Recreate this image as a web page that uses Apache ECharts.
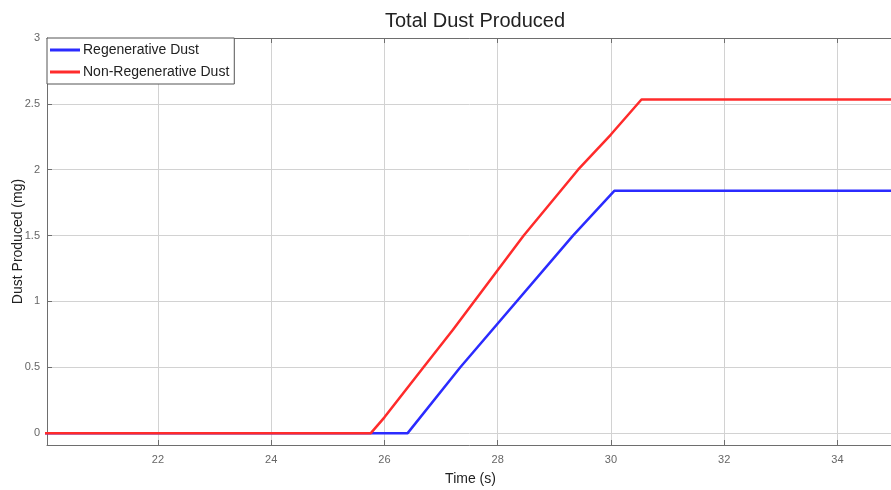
<!DOCTYPE html>
<html>
<head>
<meta charset="utf-8">
<script src="https://cdn.jsdelivr.net/npm/echarts@6/dist/echarts.min.js"></script>
<style>
  html, body { margin: 0; padding: 0; background: #fff; }
  #chart { width: 891px; height: 490px; }
</style>
</head>
<body>
<div id="chart"></div>
<script>
// ---- data ----
const xTicks = [22, 24, 26, 28, 30, 32, 34];
const yTicks = [0, 0.5, 1, 1.5, 2, 2.5, 3];
const regenTime  = [20, 26.41, 27.34, 29.33, 30.06, 35];
const regenDust  = [0, 0, 0.5, 1.5, 1.84, 1.84];
const nonRegenTime = [20, 25.76, 26.0, 26.69, 27.21, 28.46, 29.42, 30.0, 30.54, 35];
const nonRegenDust = [0, 0, 0.12, 0.5, 0.785, 1.5, 2.0, 2.267, 2.533, 2.533];

const pair = (xs, ys) => xs.map((x, i) => [x, ys[i]]);

const chart = echarts.init(document.getElementById('chart'), null, { renderer: 'canvas' });
const font = 'Liberation Sans, Arial, sans-serif';
const axisColor = '#6e6e6e';
const gridColor = '#d2d2d2';

chart.setOption({
  animation: false,
  backgroundColor: '#fff',
  title: {
    text: 'Total Dust Produced',
    left: 470, top: 6, textAlign: 'center',
    textStyle: { fontFamily: font, fontSize: 20, fontWeight: 'normal', color: '#222' }
  },
  legend: {
    left: 47, top: 38,
    orient: 'vertical',
    itemWidth: 30, itemHeight: 3,
    itemGap: 8,
    padding: [5, 5, 5, 3],
    backgroundColor: '#fff',
    borderColor: '#555', borderWidth: 1,
    textStyle: { fontFamily: font, fontSize: 14, color: '#222', padding: [0, 0, 0, -2] },
    data: [
      { name: 'Regenerative Dust', icon: 'rect' },
      { name: 'Non-Regenerative Dust', icon: 'rect' }
    ]
  },
  grid: { left: 47, top: 38, width: 847, height: 407, show: false, outerBoundsMode: 'none', containLabel: false },
  xAxis: [{
    type: 'value', min: 20.04, max: 35,
    name: 'Time (s)', nameLocation: 'middle', nameGap: 27, nameMoveOverlap: false,
    nameTextStyle: { fontFamily: font, fontSize: 14, color: '#222' },
    axisLine: { show: true, onZero: false, lineStyle: { color: axisColor, width: 1 } },
    axisTick: { show: true, inside: true, length: 5, customValues: xTicks, lineStyle: { color: axisColor } },
    axisLabel: { customValues: xTicks, fontFamily: font, fontSize: 11, color: '#666', margin: 9 },
    splitLine: { show: true, lineStyle: { color: gridColor, width: 1 } }
  }, {
    type: 'value', min: 20.04, max: 35, position: 'top',
    axisLine: { show: true, onZero: false, lineStyle: { color: axisColor, width: 1 } },
    axisTick: { show: true, inside: true, length: 5, customValues: xTicks, lineStyle: { color: axisColor } },
    axisLabel: { show: false },
    splitLine: { show: false }
  }],
  yAxis: {
    type: 'value', min: -0.09, max: 3,
    name: 'Dust Produced (mg)', nameLocation: 'middle', nameGap: 22, nameMoveOverlap: false,
    nameTextStyle: { fontFamily: font, fontSize: 14, color: '#222' },
    axisLine: { show: true, onZero: false, lineStyle: { color: axisColor, width: 1 } },
    axisTick: { show: true, inside: true, length: 5, customValues: yTicks, lineStyle: { color: axisColor } },
    axisLabel: { customValues: yTicks, fontFamily: font, fontSize: 11, color: '#666', margin: 7 },
    splitLine: { show: true, lineStyle: { color: gridColor, width: 1 } }
  },
  series: [{
    name: 'Regenerative Dust', type: 'line',
    data: pair(regenTime, regenDust),
    showSymbol: false, symbol: 'none',
    itemStyle: { color: '#2b2bff' },
    lineStyle: { color: '#2b2bff', width: 2.5 },
    z: 3
  }, {
    name: 'Non-Regenerative Dust', type: 'line',
    data: pair(nonRegenTime, nonRegenDust),
    showSymbol: false, symbol: 'none',
    itemStyle: { color: '#ff2b2b' },
    lineStyle: { color: '#ff2b2b', width: 2.5 },
    z: 4
  }]
});
</script>
</body>
</html>
